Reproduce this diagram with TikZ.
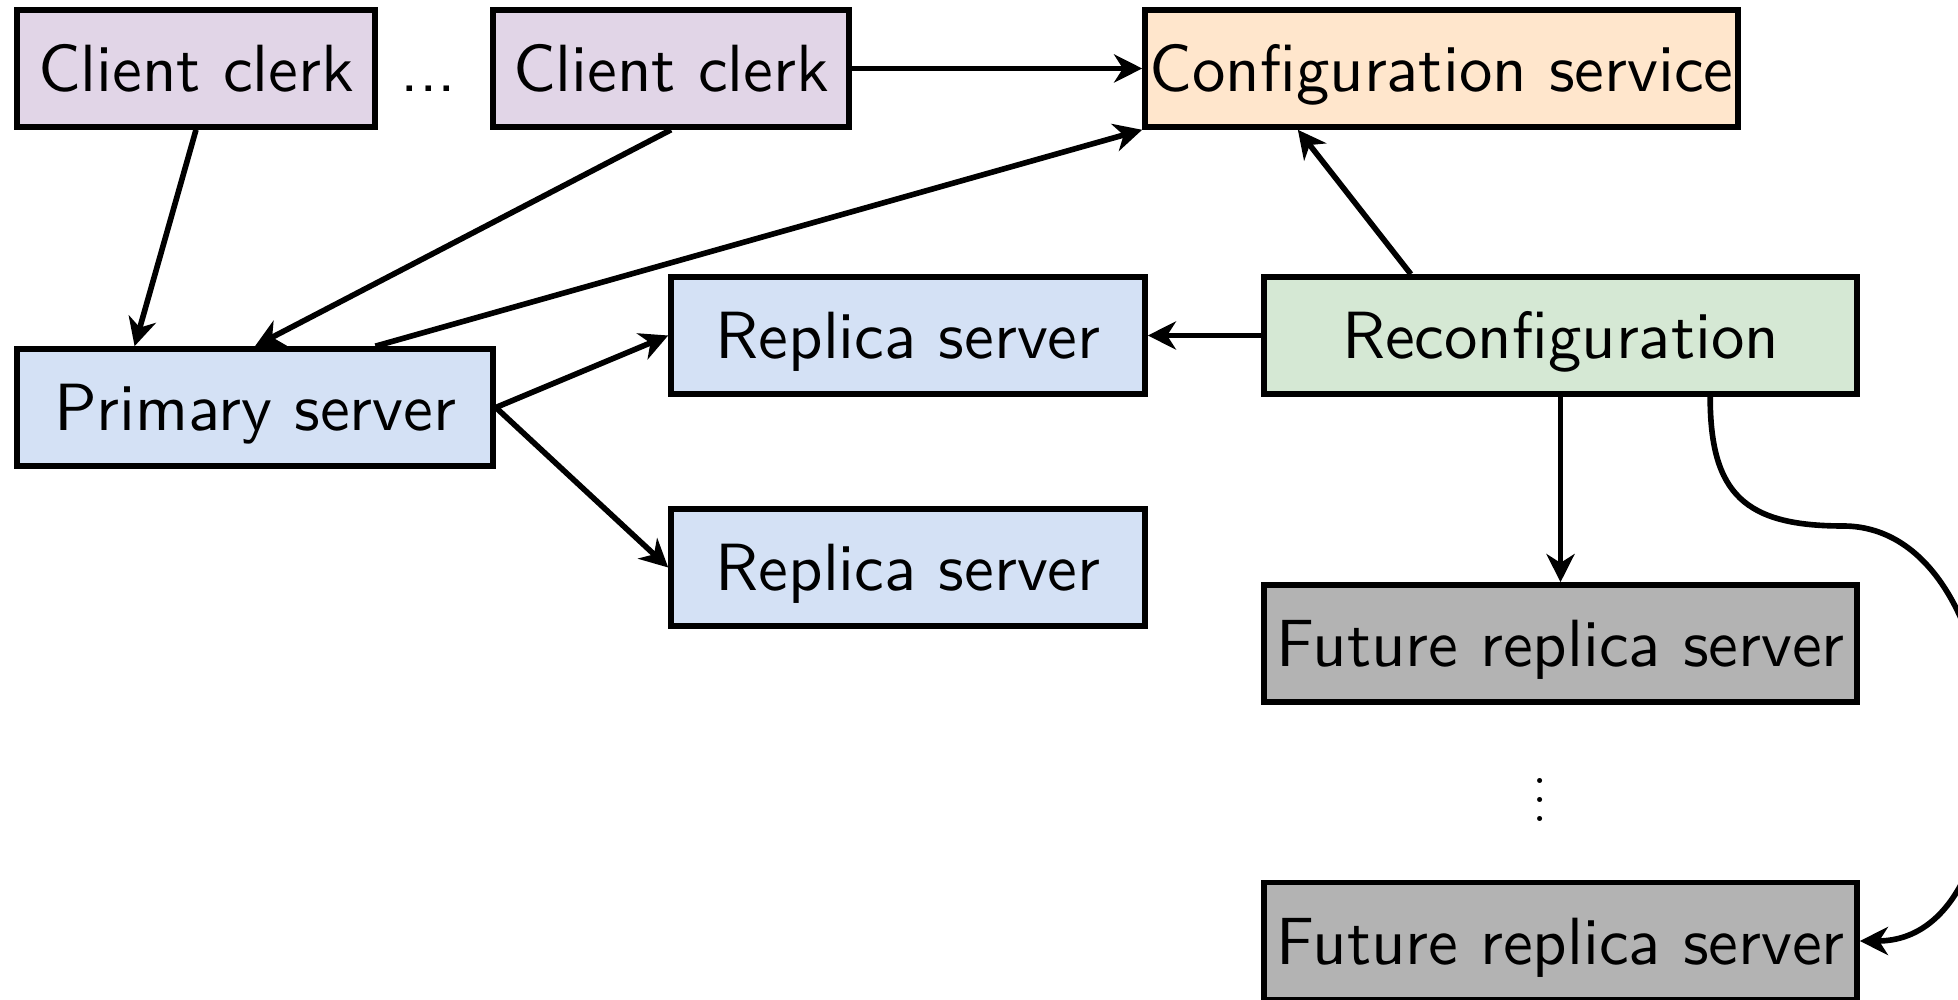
\documentclass[tikz,border=0pt]{standalone}
\usepackage{amsmath,amssymb}
\usepackage{tikz}
\usetikzlibrary{shapes.geometric,arrows,arrows.meta,positioning,calc,fit}
\usepackage{color}

\definecolor{clerkfill}{HTML}{E1D5E7}
\definecolor{configfill}{HTML}{FFE6CC}
\definecolor{serverfill}{HTML}{D4E1F5}
\definecolor{reconffill}{HTML}{D5E8D4}
\definecolor{futurefill}{HTML}{B3B3B3}

% labels are set at 10pt and blown up
\newcommand{\boxlabel}[1]{\scalebox{1.9}{#1}}

\begin{document}
\begin{tikzpicture}[>={Stealth[length=8pt, width=8pt, inset=2.5pt]}, line width=1.6pt,
    boxtext/.style={font=\sffamily, text height=0.49cm, text depth=0.02cm},
    box/.style={boxtext, draw, line width=1.6pt, minimum height=1.17cm, inner sep=1pt}]
    \useasboundingbox (0,0) rectangle (19.58,-10);

    % Clients and the configuration service
    \node[box, fill=clerkfill, minimum width=3.58cm] (clerkA) at (1.96,-0.685) {\boxlabel{Client clerk}};
    \node[box, fill=clerkfill, minimum width=3.56cm] (clerkB) at (6.71,-0.685) {\boxlabel{Client clerk}};
    \node[boxtext] (dots) at ($(clerkA.east)!0.45!(clerkB.west)$) {\boxlabel{...}};
    \node[box, fill=configfill, minimum width=5.93cm] (config) at (14.415,-0.685) {\boxlabel{Configuration service}};

    % Servers
    \node[box, fill=serverfill, minimum width=4.76cm] (primary) at (2.55,-4.075) {\boxlabel{Primary server}};
    \node[box, fill=serverfill, minimum width=4.74cm] (replA) at (9.08,-3.355) {\boxlabel{Replica server}};
    \node[box, fill=serverfill, minimum width=4.74cm] (replB) at (9.08,-5.675) {\boxlabel{Replica server}};

    % Reconfiguration and the future replicas
    \node[box, fill=reconffill, minimum width=5.93cm] (reconf) at (15.605,-3.355) {\boxlabel{Reconfiguration}};
    \node[box, fill=futurefill, minimum width=5.93cm] (futA) at (15.605,-6.435) {\boxlabel{Future replica server}};
    \node (vdots) at (15.40,-7.86) {\scalebox{1.35}{$\vdots$}};
    \node[box, fill=futurefill, minimum width=5.93cm] (futB) at (15.605,-9.41) {\boxlabel{Future replica server}};
    \coordinate (bend) at (18.43,-5.26);

    % Requests from the clients
    \draw[->] (clerkA.south) -- ($(primary.north west)!0.25!(primary.north east)$);
    \draw[->] (clerkB.south) -- (primary.north);
    \draw[->] (clerkB.east) -- (config.west);
    \draw[->] ($(primary.north west)!0.75!(primary.north east)$) -- (config.south west);

    % Replication
    \draw[->] (primary.east) -- (replA.west);
    \draw[->] (primary.east) -- (replB.west);

    % Reconfiguration
    \draw[->] ($(reconf.north west)!0.25!(reconf.north east)$) -- ($(config.south west)!0.26!(config.south east)$);
    \draw[->] (reconf.west) -- (replA.east);
    \draw[->] (reconf.south) -- (futA.north);
    \draw[->] ($(reconf.south west)!0.75!(reconf.south east)$) to[out=-90, in=180, looseness=1.35] (bend)
        to[out=0, in=0, looseness=1.1] (futB.east);
\end{tikzpicture}
\end{document}
